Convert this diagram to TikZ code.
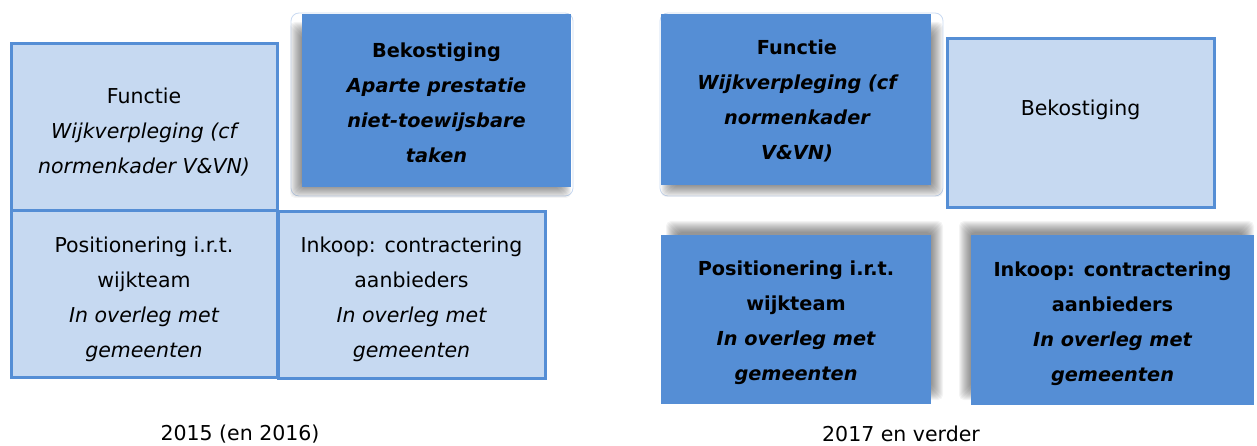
\documentclass[tikz,border=0pt]{standalone}
\usepackage{fontspec}
\setmainfont{DejaVu Sans}
\definecolor{darkblue}{HTML}{558ED5}
\definecolor{lightblue}{HTML}{C6D9F1}
\definecolor{outlineblue}{HTML}{C9DAF2}
\newcommand\softshadow[4]{%
  \foreach \k in {0,...,11}{%
    \fill[black,opacity=0.045,rounded corners=5pt] ({#1+\k},{#2+\k}) rectangle ({#3-\k},{#4-\k});}}
\tikzset{
  lightbox/.style={draw=darkblue,fill=lightblue,line width=3pt,inner sep=0pt,outer sep=0pt},
  darkbox/.style={fill=darkblue,inner sep=0pt,outer sep=0pt},
  lighttext/.style={inner sep=0pt,align=center,font=\fontsize{20.5}{35}\selectfont},
  darktext/.style={inner sep=0pt,align=center,font=\fontsize{19.3}{35}\selectfont\bfseries},
  caption/.style={inner sep=0pt,font=\fontsize{20.5}{24}\selectfont},
  frameline/.style={draw=outlineblue,line width=0.8pt,rounded corners=8pt}
}
\begin{document}
\begin{tikzpicture}[x=1pt,y=-1pt]
\useasboundingbox (0,0) rectangle (1257,446);
% ---------- left panel ----------
\node[lightbox,minimum width=266pt,minimum height=167pt] (lfun) at (144,127.5) {};
\node[lighttext] (lfunt) at (144,132.5)
  {Functie\\ {\itshape Wijkverpleging (cf}\\ {\itshape normenkader V\&VN)}};
\node[lightbox,minimum width=266pt,minimum height=166pt] (lpos) at (144,294) {};
\node[lighttext] (lpost) at (144,299)
  {Positionering i.r.t.\\ wijkteam\\ {\itshape In overleg met}\\ {\itshape gemeenten}};
\node[lightbox,minimum width=267pt,minimum height=166pt] (link) at (411.5,295) {};
\node[lighttext] (linkt) at (411.5,299)
  {Inkoop: contractering\\ aanbieders\\ {\itshape In overleg met}\\ {\itshape gemeenten}};
\draw[frameline] (291,13) rectangle (573,196);
\softshadow{290}{22}{571}{198}
\node[darkbox,minimum width=269pt,minimum height=173pt] (lbek) at (436.5,100.5) {};
\node[darktext] (lbekt) at (436.5,103)
  {Bekostiging\\ {\itshape Aparte prestatie}\\ {\itshape niet-toewijsbare}\\ {\itshape taken}};
% ---------- right panel ----------
\draw[frameline] (660,13) rectangle (943,196);
\softshadow{661}{22}{943}{197}
\node[darkbox,minimum width=270pt,minimum height=171pt] (rfun) at (796,99.5) {};
\node[darktext] (rfunt) at (797,101)
  {Functie\\ {\itshape Wijkverpleging (cf}\\ {\itshape normenkader}\\ {\itshape V\&VN)}};
\node[lightbox,minimum width=267pt,minimum height=169pt] (rbek) at (1080.5,123.5) {};
\node[lighttext] (rbekt) at (1080.5,110) {Bekostiging};
\softshadow{666}{221}{943}{400}
\node[darkbox,minimum width=270pt,minimum height=169pt] (rpos) at (796,319.5) {};
\node[darktext] (rpost) at (796,322.5)
  {Positionering i.r.t.\\ wijkteam\\ {\itshape In overleg met}\\ {\itshape gemeenten}};
\softshadow{959}{221}{1254}{400}
\node[darkbox,minimum width=283pt,minimum height=170pt] (rink) at (1112.5,320) {};
\node[darktext] (rinkt) at (1112.5,324)
  {Inkoop: contractering\\ aanbieders\\ {\itshape In overleg met}\\ {\itshape gemeenten}};
% ---------- captions ----------
\node[caption] (cap1) at (240,434) {2015 (en 2016)};
\node[caption] (cap2) at (901,434) {2017 en verder};
\end{tikzpicture}
\end{document}
